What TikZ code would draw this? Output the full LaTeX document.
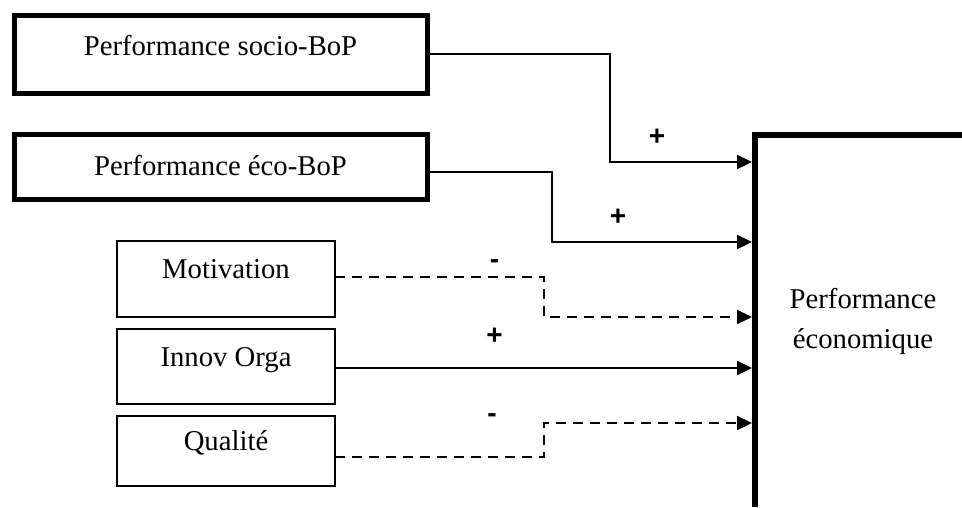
\documentclass[tikz,border=0pt]{standalone}
\usepackage{fontspec}
\setmainfont{Liberation Serif}
\newfontfamily\signfont{Liberation Sans}
\usetikzlibrary{arrows.meta,calc}

\begin{document}
\begin{tikzpicture}[x=1pt,y=-1pt,
  every node/.style={inner sep=0pt,outer sep=0pt},
  boxtext/.style={font=\fontsize{28.7}{34}\selectfont},
  thickbox/.style={boxtext,draw,line width=5pt,minimum width=413pt},
  thinbox/.style={boxtext,draw,line width=2pt,minimum width=218pt},
  link/.style={line width=2.3pt,-{Triangle[length=15pt,width=14pt]}},
  dashlink/.style={link,dash pattern=on 10pt off 7pt},
  sign/.style={anchor=base,font=\signfont\bfseries\fontsize{28}{32}\selectfont}
]
\useasboundingbox (0,0) rectangle (962,507);

% source boxes
\node[thickbox,minimum height=78pt,text height=20pt,text depth=18pt]
  (socio) at (220.5,54) {Performance socio-BoP};
\node[thickbox,minimum height=65pt,text height=20pt,text depth=3pt]
  (ecobop) at (220.5,166.5) {Performance éco-BoP};
\node[thinbox,minimum height=76pt,text height=20pt,text depth=22pt]
  (motiv) at (226,279) {Motivation};
\node[thinbox,minimum height=75pt,text height=20pt,text depth=21pt]
  (innov) at (226,366.5) {Innov Orga};
\node[thinbox,minimum height=70pt,text height=20pt,text depth=22pt]
  (qual) at (226,451) {Qualité};

% target block, open to the right and bottom
\node[boxtext,align=center,minimum width=216pt,minimum height=372pt]
  (eco) at (863,321) {Performance\\[6pt]économique};
\draw[line width=6.5pt] (eco.south west) -- (eco.north west) -- (eco.north east);

% arrival points on the left edge of the target block
\foreach \n/\y in {1/162,2/242,3/317,4/368,5/423}
  \coordinate (in\n) at ($(eco.west |- 0,\y)+(-3,0)$);

% connectors
\draw[link] (socio.east) -| ([xshift=-142pt]in1) -- (in1);
\draw[link] ([yshift=-5.5pt]ecobop.east) -| ([xshift=-200pt]in2) -- (in2);
\draw[dashlink] ([yshift=2pt]motiv.east) -| ([xshift=-208pt]in3) -- (in3);
\draw[link] ([yshift=-1.5pt]innov.east) -- (in4);
\draw[dashlink] ([yshift=-6pt]qual.east) -| ([xshift=-208pt]in5) -- (in5);

% signs of the effects
\node[sign] (s1) at (657,145) {+};
\node[sign] (s2) at (618,225) {+};
\node[sign] (s3) at (494.5,268) {-};
\node[sign] (s4) at (494.5,344) {+};
\node[sign] (s5) at (492,422.5) {-};
\end{tikzpicture}
\end{document}
